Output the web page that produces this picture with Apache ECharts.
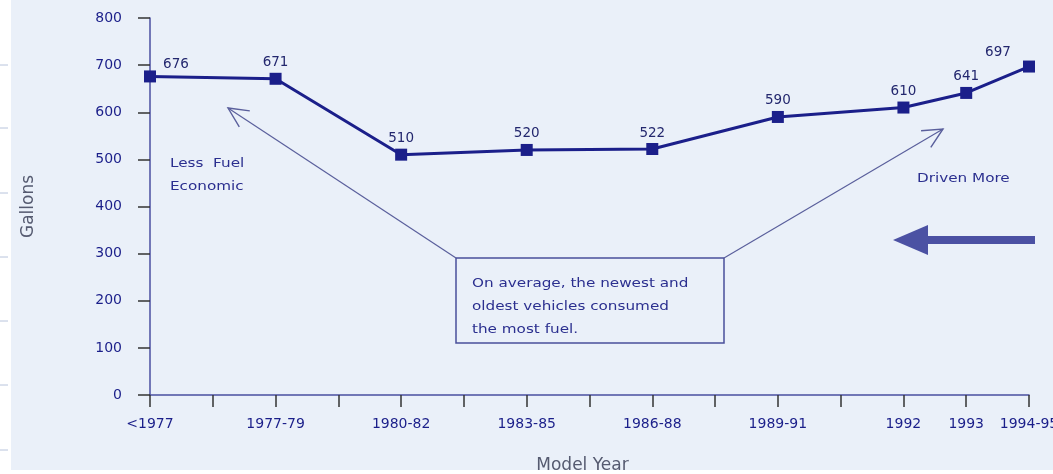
<!DOCTYPE html>
<html>
<head>
<meta charset="utf-8">
<script src="https://cdn.jsdelivr.net/npm/echarts@6/dist/echarts.min.js"></script>
<style>
  html, body { margin: 0; padding: 0; background: #ffffff; }
  #chart { width: 1053px; height: 474px; }
</style>
</head>
<body>
<div id="chart"></div>
<script>
// Model-year groups laid out on an even 15-slot axis; blank slots carry only a tick.
const modelYears = ['<1977', '', '1977-79', '', '1980-82', '', '1983-85', '', '1986-88', '', '1989-91', '', '1992', '1993', '1994-95'];
// Average annual fuel use per vehicle (gallons); null where a slot has no group.
const gallons = [676, null, 671, null, 510, null, 520, null, 522, null, 590, null, 610, 641, 697];
const yTicks = { min: 0, max: 800, step: 100 };

const navy = '#1b1f8a';
const noteBlue = '#2b2f8f';
const pointerColor = '#5a5f9c';
const face = '"DejaVu Sans", Verdana, sans-serif';

const chart = echarts.init(document.getElementById('chart'), null, { renderer: 'canvas' });

// Open V arrowhead helper for the pointer lines
function arrow(x1, y1, x2, y2, len, color) {
  const a = Math.atan2(y1 - y2, x1 - x2);
  const s = 0.45;
  const w1 = [x2 + len * Math.cos(a + s), y2 + len * Math.sin(a + s)];
  const w2 = [x2 + len * Math.cos(a - s), y2 + len * Math.sin(a - s)];
  return [
    { type: 'line', shape: { x1, y1, x2, y2 }, style: { stroke: color, lineWidth: 1.2 }, z: 10 },
    { type: 'polyline', shape: { points: [w1, [x2, y2], w2] }, style: { stroke: color, lineWidth: 1.4, fill: null }, z: 10 }
  ];
}

// Wide-set note text
function note(x, y, text) {
  return {
    type: 'text', x, y, scaleX: 1.17, scaleY: 1,
    style: { text, fill: noteBlue, font: '13px ' + face, lineHeight: 23 },
    z: 10
  };
}

// Small rule marks down the slide's left margin
const marginMarks = [65, 128, 193, 257, 321, 385, 450].map(y => ({
  type: 'line', shape: { x1: 0, y1: y, x2: 8, y2: y },
  style: { stroke: '#b8c4dc', lineWidth: 1 }, z: -9, silent: true
}));

const option = {
  backgroundColor: '#ffffff',
  animation: false,
  grid: { left: 150, right: 24, top: 18, bottom: 79, containLabel: false, outerBoundsMode: 'none' },
  xAxis: {
    type: 'category',
    data: modelYears,
    boundaryGap: false,
    name: 'Model Year',
    nameLocation: 'middle',
    nameGap: 62,
    nameTextStyle: { color: '#555a70', fontSize: 17, fontFamily: face, padding: [0, 14, 0, 0] },
    axisLine: { lineStyle: { color: '#4a4fa0', width: 1.5 } },
    axisTick: { show: true, interval: 0, length: 12, lineStyle: { color: '#333', width: 1.5 } },
    axisLabel: { interval: 0, color: navy, fontSize: 14, margin: 22, fontFamily: face },
    splitLine: { show: false }
  },
  yAxis: {
    type: 'value',
    min: yTicks.min,
    max: yTicks.max,
    interval: yTicks.step,
    name: 'Gallons',
    nameLocation: 'middle',
    nameGap: 113,
    nameTextStyle: { color: '#555a70', fontSize: 17, fontFamily: face },
    axisLine: { show: true, lineStyle: { color: '#4a4fa0', width: 1.5 } },
    axisTick: { show: true, length: 12, lineStyle: { color: '#333', width: 1.5 } },
    axisLabel: { color: navy, fontSize: 14, margin: 28, fontFamily: face },
    splitLine: { show: false }
  },
  series: [{
    type: 'line',
    data: gallons.map((v, i) => {
      const item = { value: v };
      if (i === 0) item.label = { offset: [26, 4] };
      if (i === gallons.length - 1) item.label = { offset: [-31, 2] };
      return item;
    }),
    connectNulls: true,
    symbol: 'rect',
    symbolSize: 12,
    lineStyle: { color: navy, width: 3 },
    itemStyle: { color: navy },
    label: {
      show: true,
      position: 'top',
      distance: 3,
      color: '#23276e',
      fontSize: 13.5,
      fontFamily: face
    },
    z: 5
  }],
  graphic: [
    // page tint behind the plot
    { type: 'rect', shape: { x: 11, y: 0, width: 1042, height: 470 }, style: { fill: '#eaf0f9' }, z: -10, silent: true },
    ...marginMarks,
    // callout notes
    note(170, 152, 'Less  Fuel\nEconomic'),
    note(917, 167, 'Driven More'),
    { type: 'rect', shape: { x: 456, y: 258, width: 268, height: 85 }, style: { fill: 'rgba(0,0,0,0)', stroke: '#4a4f9a', lineWidth: 1.5 }, z: 10 },
    note(472, 272, 'On average, the newest and\noldest vehicles consumed\nthe most fuel.'),
    ...arrow(456, 258, 228, 108, 22, pointerColor),
    ...arrow(724, 258, 943, 129, 22, pointerColor),
    // bold arrow on the right
    { type: 'rect', shape: { x: 925, y: 236, width: 110, height: 8 }, style: { fill: '#4b51a3' }, z: 10 },
    { type: 'polygon', shape: { points: [[893, 240], [928, 225], [928, 255]] }, style: { fill: '#4b51a3' }, z: 10 }
  ]
};

chart.setOption(option);
</script>
</body>
</html>
